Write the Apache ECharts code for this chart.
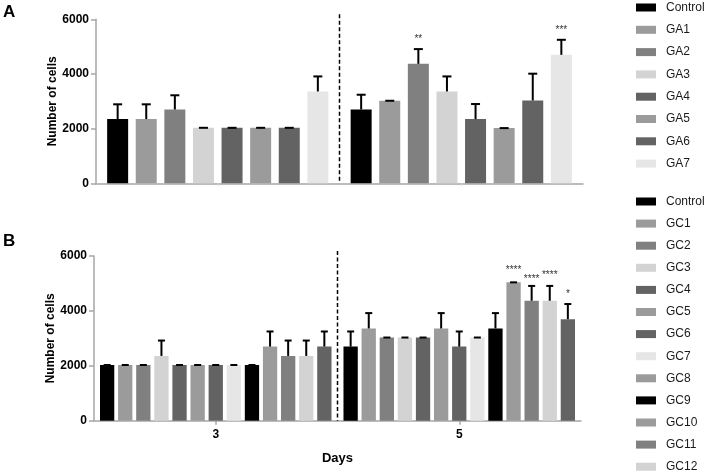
<!DOCTYPE html>
<html>
<head>
<meta charset="utf-8">
<script src="https://cdn.jsdelivr.net/npm/echarts@6/dist/echarts.min.js"></script>
<style>html,body{margin:0;padding:0;background:#fff}#c{width:709px;height:475px}</style>
</head>
<body>
<div id="c"></div>
<script>
// ---------- DATA ----------
const days = ['3', '5'];
const yTicks = [0, 2000, 4000, 6000];

// Panel A
const namesA = ['Control', 'GA1', 'GA2', 'GA3', 'GA4', 'GA5', 'GA6', 'GA7'];
const meanA_day3 = [2350, 2350, 2700, 2030, 2030, 2030, 2030, 3360];
const errA_day3  = [540, 540, 520, 0, 0, 0, 0, 550];
const meanA_day5 = [2700, 3020, 4370, 3360, 2350, 2020, 3030, 4700];
const errA_day5  = [540, 0, 540, 550, 550, 0, 980, 550];
const starsA_day3 = ['', '', '', '', '', '', '', ''];
const starsA_day5 = ['', '', '**', '', '', '', '', '***'];

// Panel B
const namesB = ['Control', 'GC1', 'GC2', 'GC3', 'GC4', 'GC5', 'GC6', 'GC7', 'GC8', 'GC9', 'GC10', 'GC11', 'GC12'];
const meanB_day3 = [2030, 2030, 2030, 2360, 2030, 2030, 2030, 2030, 2030, 2700, 2360, 2360, 2700];
const errB_day3  = [0, 0, 0, 560, 0, 0, 0, 0, 0, 550, 560, 560, 550];
const meanB_day5 = [2700, 3360, 3030, 3030, 3030, 3360, 2700, 3030, 3360, 5040, 4370, 4370, 3700];
const errB_day5  = [550, 560, 0, 0, 0, 560, 550, 0, 560, 0, 540, 540, 550];
const starsB_day3 = ['', '', '', '', '', '', '', '', '', '', '', '', ''];
const starsB_day5 = ['', '', '', '', '', '', '', '', '', '****', '****', '****', '*'];

// ---------- STYLE ----------
const K = '#000000', G1 = '#9b9b9b', G2 = '#808080', G3 = '#d3d3d3', G4 = '#636363', G7 = '#e6e6e6';
const barColorsA = [K, G1, G2, G3, G4, G1, G4, G7];
const legendColorsA = [K, G1, G2, G3, G4, G1, G4, G7];
const barColorsB = [K, G1, G2, G3, G4, G1, G4, G7, K, G1, G2, G3, G4];
const legendColorsB = [K, G1, G2, G3, G4, G1, G4, G7, G1, K, G1, G2, G3];
const FONT = '"Liberation Sans", Arial, Helvetica, sans-serif';
const AXIS_COLOR = '#a6a6a6';

const panels = [
  { names: namesA, means: [meanA_day3, meanA_day5], errs: [errA_day3, errA_day5], stars: [starsA_day3, starsA_day5],
    colors: barColorsA, barW: 21, gapPx: 7.6, capW: 9, starOff: namesA.map(() => 10) },
  { names: namesB, means: [meanB_day3, meanB_day5], errs: [errB_day3, errB_day5], stars: [starsB_day3, starsB_day5],
    colors: barColorsB, barW: 14.3, gapPx: 3.8, capW: 7, starOff: [10, 10, 10, 10, 10, 10, 10, 10, 10, 12, 6.5, 10.5, 10] }
];

function errRender(P, i) {
  return function (params, api) {
    const cat = api.value(0), mean = api.value(1), err = api.value(2);
    const n = P.names.length;
    const off = (i - (n - 1) / 2) * (P.barW + P.gapPx);
    const base = api.coord([cat, mean]);
    const top = api.coord([cat, mean + err]);
    const x = base[0] + off;
    const h = P.capW / 2;
    const ch = [
      { type: 'line', shape: { x1: x, y1: base[1], x2: x, y2: top[1] }, style: { stroke: '#000', lineWidth: 2 } },
      { type: 'line', shape: { x1: x - h, y1: top[1], x2: x + h, y2: top[1] }, style: { stroke: '#000', lineWidth: 2 } }
    ];
    const s = P.stars[cat][i];
    if (s) {
      ch.push({ type: 'text', style: { text: s, x: x, y: top[1] - P.starOff[i], align: 'center', verticalAlign: 'middle',
        fontSize: 10, fontFamily: FONT, fill: '#333' } });
    }
    return { type: 'group', children: ch };
  };
}

function dashRender(params, api) {
  const a = api.coord([0, 6000]);
  const b = api.coord([1, 0]);
  const x = (a[0] + b[0]) / 2;
  return { type: 'line', shape: { x1: x, y1: a[1] - 5, x2: x, y2: b[1] },
    style: { stroke: '#000', lineWidth: 1.5, lineDash: [4, 2.5] } };
}

const series = [];
panels.forEach((P, pi) => {
  P.names.forEach((nm, i) => {
    series.push({
      type: 'bar', name: nm, xAxisIndex: pi, yAxisIndex: pi,
      data: [P.means[0][i], P.means[1][i]],
      barWidth: P.barW, barGap: (P.gapPx / P.barW * 100).toFixed(1) + '%',
      itemStyle: { color: P.colors[i] }, silent: true, animation: false
    });
  });
  P.names.forEach((nm, i) => {
    series.push({
      type: 'custom', name: 'err' + pi + '_' + i, xAxisIndex: pi, yAxisIndex: pi, z: 5, clip: false,
      data: [[0, P.means[0][i], P.errs[0][i]], [1, P.means[1][i], P.errs[1][i]]],
      renderItem: errRender(P, i), silent: true, animation: false
    });
  });
  series.push({ type: 'custom', name: 'dash' + pi, xAxisIndex: pi, yAxisIndex: pi, z: 6, clip: false,
    data: [[0, 0]], renderItem: dashRender, silent: true, animation: false });
});

function yAxis(gi) {
  return {
    type: 'value', gridIndex: gi, min: yTicks[0], max: yTicks[yTicks.length - 1], interval: yTicks[1] - yTicks[0],
    name: 'Number of cells', nameLocation: 'middle', nameGap: 37, nameMoveOverlap: false,
    nameTextStyle: { fontFamily: FONT, fontWeight: 'bold', fontSize: 12, color: '#000' },
    axisLine: { show: true, lineStyle: { color: AXIS_COLOR, width: 1.5 } },
    axisTick: { show: true, length: 5, lineStyle: { color: AXIS_COLOR, width: 1.5 } },
    axisLabel: { fontFamily: FONT, fontWeight: 'bold', fontSize: 12, color: '#000', margin: 7,
      formatter: v => String(v) },
    splitLine: { show: false }
  };
}

function legend(names, colors, top, gap) {
  return {
    orient: 'vertical', left: 636, top: top, padding: 0, itemWidth: 20, itemHeight: 8, itemGap: gap,
    selectedMode: false, icon: 'rect',
    textStyle: { fontFamily: FONT, fontSize: 12, color: '#1a1a1a', lineHeight: 13, padding: [0, 0, 0, 5] },
    data: names.map((n, i) => ({ name: n, icon: 'rect', itemStyle: { color: colors[i], borderWidth: 0 } }))
  };
}

const option = {
  backgroundColor: '#fff',
  animation: false,
  title: [
    { text: 'A', left: 3, top: 4, padding: 0, textStyle: { fontFamily: FONT, fontWeight: 'bold', fontSize: 17, color: '#000' } },
    { text: 'B', left: 3, top: 233, padding: 0, textStyle: { fontFamily: FONT, fontWeight: 'bold', fontSize: 17, color: '#000' } }
  ],
  legend: [legend(namesA, legendColorsA, 1, 9.3), legend(namesB, legendColorsB, 195, 9.1)],
  grid: [
    { left: 96, right: 126, top: 19.3, height: 164, outerBoundsMode: 'none', containLabel: false },
    { left: 94, right: 128, top: 256, height: 164.7, outerBoundsMode: 'none', containLabel: false }
  ],
  xAxis: [
    { type: 'category', gridIndex: 0, data: days,
      axisLine: { lineStyle: { color: AXIS_COLOR, width: 1.5 } },
      axisTick: { show: true, alignWithLabel: true, length: 3, lineStyle: { color: '#dddddd' } },
      axisLabel: { show: false } },
    { type: 'category', gridIndex: 1, data: days,
      name: 'Days', nameLocation: 'middle', nameGap: 31,
      nameTextStyle: { fontFamily: FONT, fontWeight: 'bold', fontSize: 13, color: '#000' },
      axisLine: { lineStyle: { color: AXIS_COLOR, width: 1.5 } },
      axisTick: { show: true, alignWithLabel: true, length: 4, lineStyle: { color: AXIS_COLOR, width: 1.5 } },
      axisLabel: { fontFamily: FONT, fontWeight: 'bold', fontSize: 12, color: '#000', margin: 8 } }
  ],
  yAxis: [yAxis(0), yAxis(1)],
  series: series
};

const chart = echarts.init(document.getElementById('c'), null, { renderer: 'canvas' });
chart.setOption(option);
</script>
</body>
</html>
